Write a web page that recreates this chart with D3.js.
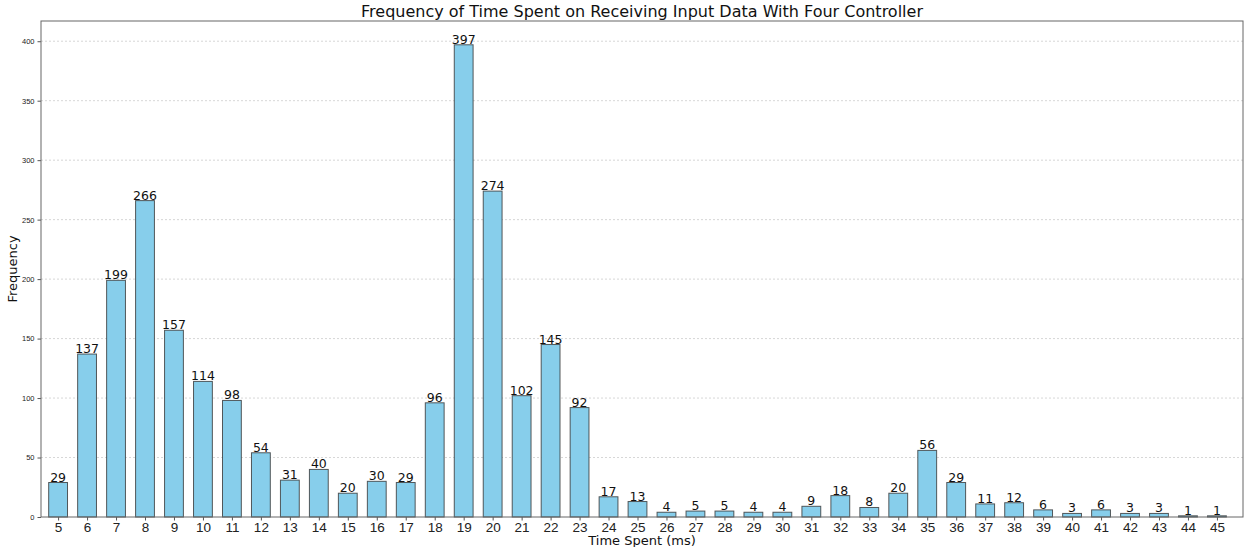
<!DOCTYPE html>
<html>
<head>
<meta charset="utf-8">
<script src="https://cdn.jsdelivr.net/npm/d3@7"></script>
<style>
  body { margin: 0; background: #fff; }
  svg { font-family: "DejaVu Sans", sans-serif; }
</style>
</head>
<body>
<svg width="1245" height="547"></svg>
<script>
let times = d3.range(5, 46);
let counts = [29, 137, 199, 266, 157, 114, 98, 54, 31, 40, 20, 30, 29, 96, 397, 274, 102, 145, 92,
  17, 13, 4, 5, 5, 4, 4, 9, 18, 8, 20, 56, 29, 11, 12, 6, 3, 6, 3, 3, 1, 1];
let yTicks = [0, 50, 100, 150, 200, 250, 300, 350, 400];

let svg = d3.select("svg");
let margin = {left: 41, top: 21, right: 2, bottom: 30};
let width = 1245 - margin.left - margin.right;
let height = 547 - margin.top - margin.bottom;

let g = svg.append("g").attr("transform", `translate(${margin.left}, ${margin.top})`);

let xScale = d3.scaleLinear().domain([4.41, 45.9]).range([0, width]);
let yScale = d3.scaleLinear().domain([0, 417]).range([height, 0]);
let barWidth = xScale(5.65) - xScale(5);

// grid
g.selectAll(".grid")
  .data(yTicks.slice(1))
  .enter()
  .append("line")
  .attr("x1", 0).attr("x2", width)
  .attr("y1", d => yScale(d)).attr("y2", d => yScale(d))
  .attr("stroke", "#ccc")
  .attr("stroke-width", 0.8)
  .attr("stroke-dasharray", "2,2");

g.selectAll(".bar")
  .data(counts)
  .enter()
  .append("rect")
  .attr("x", (_, i) => xScale(times[i]) - barWidth / 2)
  .attr("y", d => yScale(d))
  .attr("width", barWidth)
  .attr("height", d => height - yScale(d))
  .attr("fill", "#87ceeb")
  .attr("stroke", "#333")
  .attr("stroke-opacity", 0.8)
  .attr("stroke-width", 1);

g.selectAll(".val")
  .data(counts)
  .enter()
  .append("text")
  .attr("x", (_, i) => xScale(times[i]))
  .attr("y", d => yScale(d) - 1)
  .attr("text-anchor", "middle")
  .attr("font-size", 12.5)
  .attr("fill", "#111")
  .text(d => d);

let xAxis = d3.axisBottom(xScale).tickValues(times).tickFormat(d3.format("d"))
  .tickSizeOuter(0).tickSize(3.5).tickPadding(1.5);
let yAxis = d3.axisLeft(yScale).tickValues(yTicks).tickSizeOuter(0).tickSize(3.5);

let gx = g.append("g").attr("transform", `translate(0, ${height})`).call(xAxis);
gx.selectAll("text").attr("font-size", 13.5).attr("fill", "#222");
let gy = g.append("g").call(yAxis);
gy.selectAll("text").attr("font-size", 7.5).attr("fill", "#222");
[gx, gy].forEach(a => {
  a.select(".domain").remove();
  a.selectAll(".tick line").attr("stroke", "#555");
});

// spines
g.append("rect")
  .attr("x", 0).attr("y", 0)
  .attr("width", width).attr("height", height)
  .attr("fill", "none")
  .attr("stroke", "#666")
  .attr("stroke-width", 1);

svg.append("text")
  .attr("x", margin.left + width / 2)
  .attr("y", 17)
  .attr("text-anchor", "middle")
  .attr("font-size", 16)
  .attr("fill", "#111")
  .text("Frequency of Time Spent on Receiving Input Data With Four Controller");

svg.append("text")
  .attr("x", margin.left + width / 2)
  .attr("y", 545)
  .attr("text-anchor", "middle")
  .attr("font-size", 13)
  .attr("fill", "#111")
  .text("Time Spent (ms)");

svg.append("text")
  .attr("transform", `translate(17, ${margin.top + height / 2}) rotate(-90)`)
  .attr("text-anchor", "middle")
  .attr("font-size", 13)
  .attr("fill", "#111")
  .text("Frequency");
</script>
</body>
</html>
